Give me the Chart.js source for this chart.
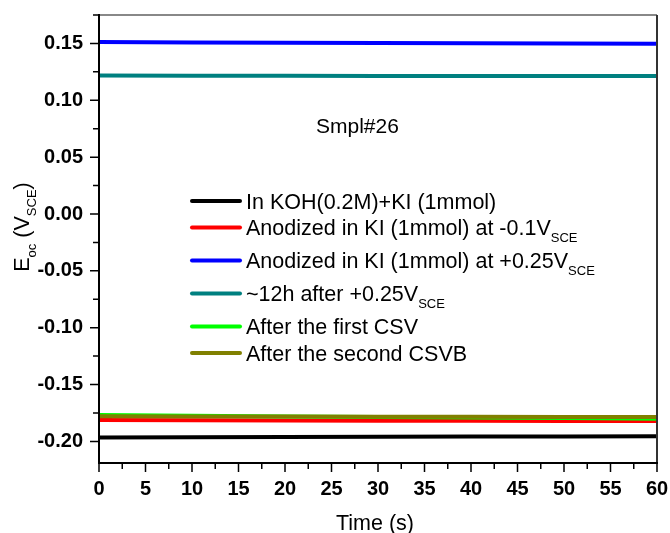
<!DOCTYPE html>
<html>
<head>
<meta charset="utf-8">
<script src="https://cdn.jsdelivr.net/npm/chart.js@4"></script>
<style>
  body { margin: 0; background: #fff; }
  #wrap { width: 670px; height: 533px; }
</style>
</head>
<body>
<div id="wrap"><canvas id="myChart"></canvas></div>
<script>
const times = [0, 10, 20, 30, 40, 50, 60];
const names = [
  'In KOH(0.2M)+KI (1mmol)',
  'Anodized in KI (1mmol) at -0.1V_{SCE}',
  'Anodized in KI (1mmol) at +0.25V_{SCE}',
  '~12h after +0.25V_{SCE}',
  'After the first CSV',
  'After the second CSVB'
];
const koh = [-0.1965, -0.1964, -0.1962, -0.1960, -0.1958, -0.1956, -0.1955];
const anodNeg = [-0.1812, -0.1815, -0.1816, -0.1818, -0.1819, -0.1820, -0.1820];
const anodPos = [0.1512, 0.1509, 0.1505, 0.1503, 0.1501, 0.1499, 0.1497];
const after12h = [0.1218, 0.1215, 0.1215, 0.1214, 0.1214, 0.1214, 0.1214];
const firstCsv = [-0.1768, -0.1775, -0.1780, -0.1785, -0.1790, -0.1795, -0.1800];
const secondCsv = [-0.1778, -0.1780, -0.1782, -0.1783, -0.1784, -0.1785, -0.1785];
const colors = ['#000000', '#ff0000', '#0000ff', '#008080', '#00ff00', '#808000'];

const series = [koh, anodNeg, anodPos, after12h, firstCsv, secondCsv];
const FONT = "'Liberation Sans', Arial, sans-serif";

// text with _{sub} parts
function drawRich(c, text, x, y, size) {
  const parts = text.split(/_\{([^}]*)\}/);
  let cx = x;
  parts.forEach((p, i) => {
    if (!p) return;
    if (i % 2 === 1) {
      c.font = Math.round(size * 0.62) + 'px ' + FONT;
      c.fillText(p, cx, y + size * 0.33);
    } else {
      c.font = size + 'px ' + FONT;
      c.fillText(p, cx, y);
    }
    cx += c.measureText(p).width;
  });
  return cx - x;
}

const decor = {
  id: 'decor',
  afterDraw(chart) {
    const c = chart.ctx;
    const a = chart.chartArea;
    const xs = chart.scales.x, ys = chart.scales.y;
    c.save();
    // frame
    c.lineWidth = 2;
    c.strokeStyle = '#888';
    c.beginPath(); c.moveTo(a.left, a.top); c.lineTo(a.right, a.top); c.stroke();
    c.strokeStyle = '#333';
    c.beginPath(); c.moveTo(a.right, a.top); c.lineTo(a.right, a.bottom); c.stroke();
    c.strokeStyle = '#000';
    c.beginPath();
    c.moveTo(a.left, a.top - 1); c.lineTo(a.left, a.bottom); c.lineTo(a.right + 1, a.bottom);
    c.stroke();
    // ticks
    c.lineWidth = 1.5;
    c.beginPath();
    ys.ticks.forEach(t => {
      const py = ys.getPixelForValue(t.value);
      const major = Math.abs(Math.round(t.value * 1000)) % 50 === 0;
      c.moveTo(a.left, py); c.lineTo(a.left - (major ? 9 : 6), py);
    });
    xs.ticks.forEach(t => {
      const px = xs.getPixelForValue(t.value);
      const major = Math.round(t.value * 10) % 50 === 0;
      c.moveTo(px, a.bottom); c.lineTo(px, a.bottom + (major ? 9 : 6));
    });
    c.stroke();

    // sample label
    c.fillStyle = '#000';
    c.textBaseline = 'alphabetic';
    c.font = '21px ' + FONT;
    c.fillText('Smpl#26', 316, 133);

    // legend
    let ly = 201;
    chart.data.datasets.forEach((ds, i) => {
      if (i > 0) ly += names[i - 1].includes('_{') ? 33 : 26.5;
      c.strokeStyle = ds.borderColor;
      c.lineWidth = 4;
      c.lineCap = 'round';
      c.beginPath(); c.moveTo(192, ly); c.lineTo(240, ly); c.stroke();
      c.fillStyle = '#000';
      drawRich(c, names[i], 246, ly + 7.5, 21.5);
    });

    // axis titles
    c.fillStyle = '#000';
    c.save();
    c.translate(29, 0);
    c.rotate(-Math.PI / 2);
    const t1 = 'E_{oc} (V_{SCE})';
    const off = document.createElement('canvas').getContext('2d');
    const w = drawRich(off, t1, 0, 0, 21.5);
    drawRich(c, t1, -227 - w / 2, 0, 21.5);
    c.restore();
    c.font = '21.5px ' + FONT;
    c.textAlign = 'center';
    c.fillText('Time (s)', 375, 530);
    c.restore();
  }
};

new Chart(document.getElementById('myChart'), {
  type: 'line',
  data: {
    datasets: series.map((s, i) => ({
      label: names[i],
      data: times.map((t, k) => ({ x: t, y: s[k] })),
      borderColor: colors[i],
      borderWidth: 4,
      pointRadius: 0,
      tension: 0,
      order: series.length - 1 - i
    }))
  },
  options: {
    responsive: true,
    maintainAspectRatio: false,
    animation: false,
    layout: { padding: { left: 0, top: 15, right: 13, bottom: 0 } },
    plugins: { legend: { display: false }, tooltip: { enabled: false } },
    scales: {
      x: {
        type: 'linear',
        min: 0, max: 60,
        grid: { display: false },
        border: { display: false },
        afterFit: s => { s.height = 70; s.paddingLeft = 0; s.paddingRight = 0; },
        ticks: {
          stepSize: 2.5,
          autoSkip: false,
          maxRotation: 0,
          padding: 6,
          color: '#000',
          font: { family: FONT, size: 20, weight: 'bold' },
          callback: v => (Math.round(v * 10) % 50 === 0 ? String(v) : '')
        }
      },
      y: {
        min: -0.219, max: 0.175,
        grid: { display: false },
        border: { display: false },
        afterFit: s => { s.width = 99; s.paddingTop = 0; s.paddingBottom = 0; },
        ticks: {
          stepSize: 0.025,
          includeBounds: false,
          autoSkip: false,
          padding: 8,
          color: '#000',
          font: { family: FONT, size: 20, weight: 'bold' },
          callback: v => {
            const m = Math.round(v * 1000);
            return (m % 50 === 0 && m >= -200 && m <= 150) ? (m / 1000).toFixed(2) : '';
          }
        }
      }
    }
  },
  plugins: [decor]
});
</script>
</body>
</html>
